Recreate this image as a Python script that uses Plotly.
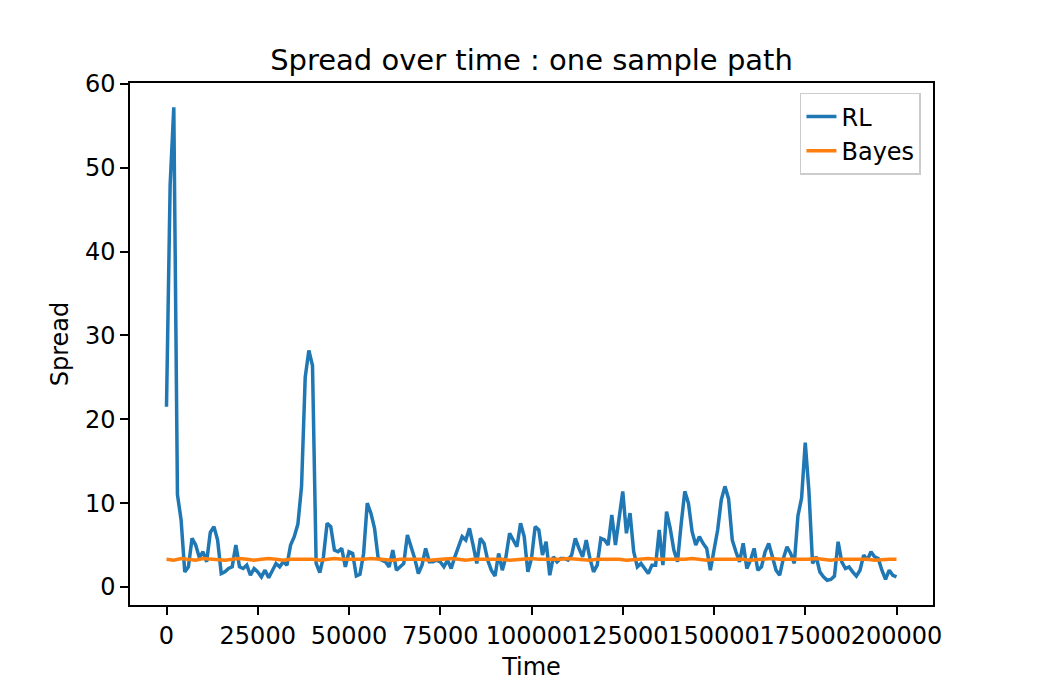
import plotly.graph_objects as go

# ---- data ----
time_rl = list(range(0, 201000, 1000))
rl = [
    21.5, 48.0, 57.2, 11.0, 8.0, 1.8, 2.4, 5.8, 5.0, 3.5,
    4.2, 3.0, 6.5, 7.2, 5.6, 1.6, 1.8, 2.2, 2.4, 5.0,
    2.4, 2.2, 2.6, 1.4, 2.2, 1.8, 1.2, 2.0, 1.1, 2.0,
    2.8, 2.4, 3.0, 2.6, 5.0, 6.0, 7.5, 12.0, 25.0, 28.2,
    26.4, 2.8, 1.7, 3.6, 7.6, 7.2, 4.4, 4.2, 4.6, 2.4,
    4.2, 4.0, 1.3, 1.5, 4.0, 10.0, 8.8, 7.0, 3.4, 3.2,
    3.0, 2.4, 4.4, 2.0, 2.4, 2.8, 6.2, 4.8, 3.4, 1.6,
    2.6, 4.6, 3.0, 3.0, 3.2, 3.0, 2.4, 3.2, 2.2, 3.6,
    4.8, 6.0, 5.6, 7.0, 5.0, 2.8, 5.8, 5.2, 3.2, 2.0,
    1.3, 4.0, 2.0, 3.6, 6.4, 5.6, 4.8, 7.6, 6.0, 1.8,
    3.4, 7.2, 6.8, 3.8, 5.4, 1.4, 3.6, 3.0, 3.4, 3.4,
    3.2, 3.8, 5.8, 4.6, 3.6, 5.6, 3.4, 1.8, 2.6, 5.8,
    5.6, 5.0, 8.6, 5.0, 8.4, 11.4, 6.4, 8.8, 4.2, 2.4,
    2.8, 2.2, 1.6, 2.6, 2.6, 6.8, 2.6, 9.0, 7.0, 4.4,
    3.0, 7.5, 11.4, 10.0, 6.6, 5.0, 6.0, 5.2, 4.6, 2.0,
    4.4, 6.8, 10.4, 12.0, 10.5, 5.6, 4.2, 3.0, 5.2, 2.2,
    3.2, 4.6, 2.0, 2.4, 4.2, 5.2, 3.6, 2.0, 1.4, 3.4,
    4.8, 4.0, 2.8, 8.5, 10.6, 17.2, 11.5, 2.8, 3.6, 1.8,
    1.2, 0.8, 0.9, 1.3, 5.4, 3.0, 2.2, 2.4, 1.8, 1.3,
    2.0, 3.8, 3.2, 4.2, 3.6, 3.4, 2.0, 0.9, 2.0, 1.4,
    1.2,
]

time_bayes = list(range(0, 201000, 2000))
bayes = [
    3.3, 3.2, 3.4, 3.3, 3.2, 3.4, 3.3, 3.3, 3.2, 3.3,
    3.4, 3.3, 3.2, 3.3, 3.4, 3.3, 3.2, 3.3, 3.3, 3.4,
    3.3, 3.2, 3.3, 3.4, 3.3, 3.3, 3.2, 3.3, 3.4, 3.3,
    3.3, 3.2, 3.3, 3.3, 3.4, 3.3, 3.2, 3.3, 3.3, 3.4,
    3.3, 3.2, 3.3, 3.3, 3.3, 3.4, 3.3, 3.2, 3.3, 3.3,
    3.4, 3.3, 3.3, 3.2, 3.3, 3.4, 3.3, 3.3, 3.2, 3.3,
    3.3, 3.4, 3.3, 3.2, 3.3, 3.3, 3.4, 3.3, 3.3, 3.2,
    3.3, 3.3, 3.4, 3.3, 3.2, 3.3, 3.3, 3.3, 3.4, 3.3,
    3.2, 3.3, 3.3, 3.4, 3.3, 3.3, 3.2, 3.3, 3.3, 3.4,
    3.3, 3.2, 3.3, 3.3, 3.4, 3.3, 3.3, 3.2, 3.3, 3.3,
    3.3,
]

x_ticks = [0, 25000, 50000, 75000, 100000, 125000, 150000, 175000, 200000]
x_tick_labels = [str(v) for v in x_ticks]
y_ticks = [0, 10, 20, 30, 40, 50, 60]

FONT = "DejaVu Sans"
FS = 24

fig = go.Figure()
fig.add_trace(go.Scatter(x=time_rl, y=rl, mode="lines", name="RL",
                         line=dict(color="#1f77b4", width=3.5)))
fig.add_trace(go.Scatter(x=time_bayes, y=bayes, mode="lines", name="Bayes",
                         line=dict(color="#ff7f0e", width=3.5)))

axis_common = dict(
    showline=True, linecolor="black", linewidth=1.5, mirror=True,
    ticks="outside", ticklen=8, tickwidth=1.5, tickcolor="black",
    showgrid=False, zeroline=False,
    tickfont=dict(family=FONT, size=FS, color="black"),
)

# page body has an 8px margin: shrink the figure so the plot area lands
# at the same absolute pixels as the reference
W, H = 1030, 684
fig.update_layout(
    width=W, height=H,
    margin=dict(l=122, r=105, t=75, b=87, autoexpand=False),
    paper_bgcolor="white", plot_bgcolor="white",
    font=dict(family=FONT, size=FS, color="black"),
    title=dict(text="Spread over time : one sample path", x=0.5, xref="paper",
               y=1 - 52 / H, yref="container", yanchor="middle",
               xanchor="center", font=dict(family=FONT, size=29, color="black")),
    xaxis=dict(range=[-10000, 210000], tickvals=x_ticks, ticktext=x_tick_labels,
               tickangle=0,
               title=dict(text="Time", font=dict(family=FONT, size=FS), standoff=10),
               **axis_common),
    yaxis=dict(range=[-2.15, 60.1], tickvals=y_ticks,
               title=dict(text="Spread", font=dict(family=FONT, size=FS), standoff=10),
               **axis_common),
    legend=dict(x=0.985, y=0.981, xanchor="right", yanchor="top",
                bgcolor="rgba(255,255,255,0.8)", bordercolor="#cccccc", borderwidth=1.5,
                font=dict(family=FONT, size=FS, color="black")),
    showlegend=True,
)

fig.write_html("out.html")
